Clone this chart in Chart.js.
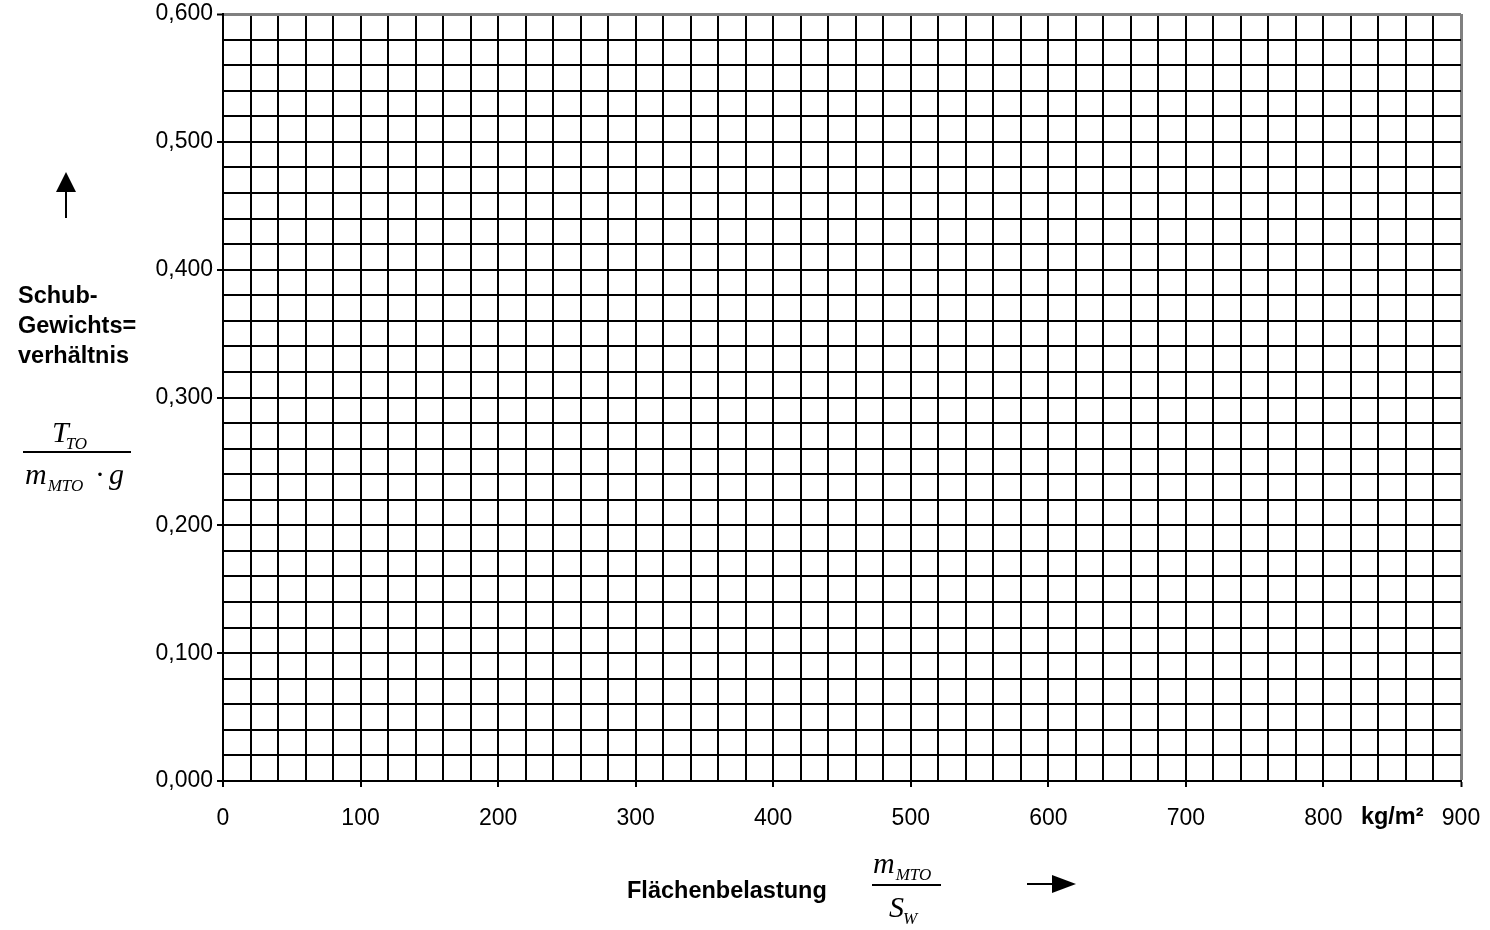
<!DOCTYPE html>
<html lang="de">
<head>
    <meta charset="UTF-8">
    <title>Schub-Gewichtsverhältnis</title>
    <script src="https://cdn.jsdelivr.net/npm/chart.js"></script>
    <style>
        body { margin: 0; background: #fff; }
    </style>
</head>
<body>
    <canvas id="gridChart" width="1490" height="930"></canvas>
    <script>
        // Achsen: Werte und Beschriftungen
        const xTickValues = [0, 100, 200, 300, 400, 500, 600, 700, 800, 900];
        const xTickLabels = ['0', '100', '200', '300', '400', '500', '600', '700', '800', '900'];
        const yTickValues = [0, 0.1, 0.2, 0.3, 0.4, 0.5, 0.6];
        const yTickLabels = ['0,000', '0,100', '0,200', '0,300', '0,400', '0,500', '0,600'];
        const xGridStep = 20;
        const yGridStep = 0.02;
        const xUnit = 'kg/m²';
        const xUnitAt = 850;
        const yTitleLines = ['Schub-', 'Gewichts=', 'verhältnis'];
        const xTitle = 'Flächenbelastung';

        const isMajor = (vals, v) => vals.some(t => Math.abs(t - v) < 1e-6);
        const labelFor = (vals, labels, v) => {
            const i = vals.findIndex(t => Math.abs(t - v) < 1e-6);
            return i >= 0 ? labels[i] : '';
        };

        // Schrift mit Index zeichnen (z.B. T_TO)
        function subText(ctx, x, y, main, sub, size, subDx) {
            ctx.font = 'italic ' + size + 'px "Liberation Serif"';
            ctx.fillText(main, x, y);
            const w = ctx.measureText(main).width + (subDx || 0);
            ctx.font = 'italic ' + Math.round(size * 0.57) + 'px "Liberation Serif"';
            ctx.fillText(sub, x + w, y + size * 0.22);
            return w + ctx.measureText(sub).width;
        }

        const labelsPlugin = {
            id: 'labels',
            afterDraw(chart) {
                const ctx = chart.ctx;
                const xs = chart.scales.x;
                ctx.save();
                ctx.fillStyle = '#000';
                ctx.strokeStyle = '#000';
                ctx.textAlign = 'left';
                ctx.textBaseline = 'alphabetic';

                // Einheit an der x-Achse
                ctx.font = 'bold 23.5px "Liberation Sans"';
                ctx.textAlign = 'center';
                ctx.fillText(xUnit, xs.getPixelForValue(xUnitAt), 824);
                ctx.textAlign = 'left';

                // y-Titel
                yTitleLines.forEach((l, i) => ctx.fillText(l, 18, 303 + i * 30));

                // Bruch T_TO / (m_MTO · g)
                subText(ctx, 52, 442, 'T', 'TO', 30, -3);
                ctx.lineWidth = 2;
                ctx.beginPath();
                ctx.moveTo(23, 452); ctx.lineTo(131, 452); ctx.stroke();
                subText(ctx, 25, 484, 'm', 'MTO', 30, 1);
                ctx.font = '30px "Liberation Serif"';
                ctx.fillText('·', 95, 484);
                ctx.font = 'italic 30px "Liberation Serif"';
                ctx.fillText('g', 109, 484);

                // Pfeil nach oben
                ctx.beginPath();
                ctx.moveTo(66, 218); ctx.lineTo(66, 190); ctx.stroke();
                ctx.beginPath();
                ctx.moveTo(66, 172); ctx.lineTo(76, 192); ctx.lineTo(56, 192); ctx.closePath(); ctx.fill();

                // x-Titel
                ctx.font = 'bold 23.5px "Liberation Sans"';
                ctx.fillText(xTitle, 627, 898);

                // Bruch m_MTO / S_W
                subText(ctx, 873, 873, 'm', 'MTO', 30, 1);
                ctx.beginPath();
                ctx.moveTo(872, 885); ctx.lineTo(941, 885); ctx.stroke();
                subText(ctx, 889, 917, 'S', 'W', 30, -1);

                // Pfeil nach rechts
                ctx.beginPath();
                ctx.moveTo(1027, 884); ctx.lineTo(1056, 884); ctx.stroke();
                ctx.beginPath();
                ctx.moveTo(1076, 884); ctx.lineTo(1052, 875); ctx.lineTo(1052, 893); ctx.closePath(); ctx.fill();

                ctx.restore();
            }
        };

        const ctx = document.getElementById('gridChart').getContext('2d');
        new Chart(ctx, {
            type: 'scatter',
            data: { datasets: [{ data: [] }] },
            options: {
                responsive: false,
                animation: false,
                layout: { padding: { left: 0, top: 14, right: 29, bottom: 0 } },
                plugins: { legend: { display: false }, tooltip: { enabled: false } },
                scales: {
                    x: {
                        type: 'linear',
                        min: 0,
                        max: 900,
                        afterFit: s => { s.height = 149; s.paddingLeft = 0; s.paddingRight = 0; },
                        border: { color: '#000', width: 2 },
                        grid: {
                            color: c => c.tick && c.tick.value === 900 ? '#808080' : '#000',
                            lineWidth: c => c.tick && c.tick.value === 900 ? 3 : 2,
                            tickLength: 6,
                            tickColor: c => isMajor(xTickValues, c.tick.value) ? '#000' : 'rgba(0,0,0,0)',
                            tickWidth: 2
                        },
                        ticks: {
                            stepSize: xGridStep,
                            maxTicksLimit: 200,
                            autoSkip: false,
                            maxRotation: 0,
                            padding: 18,
                            color: '#000',
                            font: { family: 'Liberation Sans', size: 23 },
                            callback: v => labelFor(xTickValues, xTickLabels, v)
                        }
                    },
                    y: {
                        min: 0,
                        max: 0.6,
                        afterFit: s => { s.width = 223; s.paddingTop = 0; s.paddingBottom = 0; },
                        border: { color: '#000', width: 2 },
                        grid: {
                            color: c => c.tick && Math.abs(c.tick.value - 0.6) < 1e-6 ? '#808080' : '#000',
                            lineWidth: c => c.tick && Math.abs(c.tick.value - 0.6) < 1e-6 ? 3 : 2,
                            tickLength: 6,
                            tickColor: c => isMajor(yTickValues, c.tick.value) ? '#000' : 'rgba(0,0,0,0)',
                            tickWidth: 2
                        },
                        ticks: {
                            stepSize: yGridStep,
                            maxTicksLimit: 200,
                            autoSkip: false,
                            padding: 4,
                            color: '#000',
                            font: { family: 'Liberation Sans', size: 23 },
                            callback: v => labelFor(yTickValues, yTickLabels, v)
                        }
                    }
                }
            },
            plugins: [labelsPlugin]
        });
    </script>
</body>
</html>
